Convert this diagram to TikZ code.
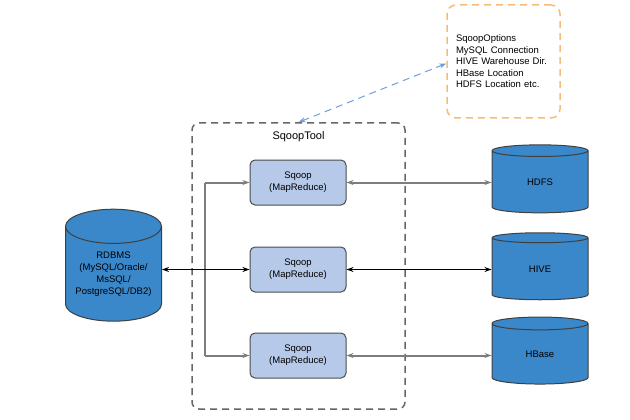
\documentclass[tikz,border=0pt]{standalone}
\usepackage{fontspec}
\setmainfont{Liberation Sans}
\usetikzlibrary{shapes.geometric,arrows.meta,positioning}

\definecolor{dbblue}{RGB}{58,135,201}
\definecolor{boxblue}{RGB}{182,201,232}
\definecolor{optorange}{RGB}{247,187,120}
\definecolor{linkblue}{RGB}{110,158,222}
\definecolor{edgegray}{RGB}{125,125,125}

\tikzset{
  db/.style={cylinder, shape border rotate=90, aspect=0.45, draw=black!75,
    line width=1pt, fill=dbblue, minimum width=96pt, inner sep=0pt, align=center,
    font=\fontsize{9.5}{12}\selectfont},
  mrbox/.style={rectangle, rounded corners=5pt, draw=black!70, line width=1pt,
    fill=boxblue, minimum width=96pt, minimum height=45pt, align=center,
    font=\fontsize{9.5}{12}\selectfont},
  frame/.style={line width=1.5pt, dash pattern=on 7pt off 5pt},
  link/.style={{Stealth[length=7pt,width=5pt]}-{Stealth[length=7pt,width=5pt]}, line width=1.2pt},
  feed/.style={-{Stealth[length=7pt,width=5pt]}, edgegray, line width=2pt},
}

\begin{document}
\begin{tikzpicture}[x=1pt, y=-1pt]
    \useasboundingbox (0,0) rectangle (630,420);

    % Options note
    \node[draw=optorange, frame, rounded corners=9pt, minimum width=113pt,
      minimum height=113pt, text width=95pt, inner xsep=9pt, align=left,
      font=\fontsize{9.5}{11.5}\selectfont] (opts) at (503.5,61.5)
      {SqoopOptions\\MySQL Connection\\HIVE Warehouse Dir.\\HBase Location\\HDFS Location etc.};

    % SqoopTool frame
    \node[draw=black!60, frame, rounded corners=7pt, minimum width=213pt,
      minimum height=286pt] (tool) at (298.5,266) {};
    \node[font=\fontsize{11}{13}\selectfont, below=6pt of tool.north] (toollabel) {SqoopTool};

    % Sqoop jobs
    \node[mrbox] (sq1) at (298,182.5) {Sqoop\\(MapReduce)};
    \node[mrbox] (sq2) at (298,269.5) {Sqoop\\(MapReduce)};
    \node[mrbox] (sq3) at (298,355.5) {Sqoop\\(MapReduce)};

    % Databases
    \node[db, minimum height=112pt] (rdbms) at (113.5,274)
      {RDBMS\\(MySQL/Oracle/\\MsSQL/\\PostgreSQL/DB2)};
    \node[db, minimum height=68pt] (hdfs) at (540,182) {HDFS};
    \node[db, minimum height=67pt] (hive) at (540,269) {HIVE};
    \node[db, minimum height=67pt] (hbase) at (540,354) {HBase};

    % Options link
    \draw[link, linkblue, line width=1pt, dash pattern=on 7pt off 5pt]
      (tool.north) -- ([yshift=-2pt]opts.west);

    % RDBMS to jobs
    \coordinate (split) at (205,0);
    \draw[edgegray, line width=2pt] (split |- sq1.west) -- (split |- sq3.west);
    \draw[feed] (split |- sq1.west) -- (sq1.west);
    \draw[feed] (split |- sq3.west) -- (sq3.west);
    \draw[link] (rdbms.east |- sq2.west) -- (sq2.west);

    % jobs to targets
    \draw[link, edgegray, line width=2pt] (sq1.east) -- (hdfs.west |- sq1.east);
    \draw[link] (sq2.east) -- (hive.west |- sq2.east);
    \draw[link, edgegray, line width=2pt] (sq3.east) -- (hbase.west |- sq3.east);

\end{tikzpicture}
\end{document}
